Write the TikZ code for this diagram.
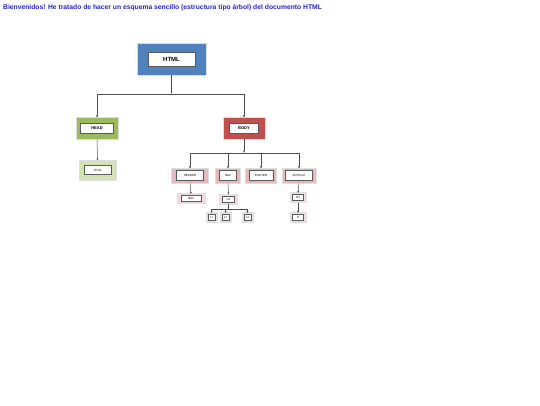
\documentclass[tikz,border=0pt]{standalone}
\usepackage{fontspec}
\setmainfont{Liberation Sans}
\usetikzlibrary{arrows.meta}
\definecolor{ttl}{HTML}{2424D6}
\definecolor{hblue}{HTML}{4F81BD}
\definecolor{hgreen}{HTML}{9BBB59}
\definecolor{hred}{HTML}{C0504D}
\definecolor{lgreen}{HTML}{D2E2B4}
\definecolor{lpink}{HTML}{E6B9B8}
\definecolor{vpink}{HTML}{F2DCDB}
\tikzset{
  x=1pt,y=-1pt,
  outerbox/.style={draw=gray!25,line width=0.8pt,inner sep=0pt},
  innerbox/.style={draw=black!65,fill=white,line width=0.5pt,inner sep=0pt,font=\fontsize{3}{3}\selectfont},
  conn/.style={draw=black!70,line width=0.5pt},
  arr/.style={conn,-{Latex[length=2.2pt,width=2pt]}},
}
% name, cx, cy, ow, oh, iw, ih, fill, text
\newcommand{\tbox}[9]{%
  \node[outerbox,fill=#8,minimum width=#4pt,minimum height=#5pt] (#1) at (#2,#3) {};
  \node[innerbox,minimum width=#6pt,minimum height=#7pt] (#1i) at (#2,#3) {#9};
}
\begin{document}
\begin{tikzpicture}
\useasboundingbox (0,0) rectangle (540,405);
\fill[white] (0,0) rectangle (540,405);
\node[anchor=west,text=ttl,font=\bfseries\fontsize{6.75}{7}\selectfont,inner sep=0pt] (title) at (3,7.5) {Bienvenidos! He tratado de hacer un esquema sencillo (estructura tipo árbol) del documento HTML};

\tbox{html}{171.5}{59}{69}{32}{47}{14}{hblue}{\fontsize{6}{6}\selectfont\bfseries HTML}
\tbox{head}{97}{128}{42}{22}{33}{10}{hgreen}{\fontsize{4}{4}\selectfont\bfseries HEAD}
\tbox{body}{244}{128}{42}{22}{29}{10}{hred}{\fontsize{4}{4}\selectfont\bfseries BODY}
\tbox{title2}{97.5}{170}{37}{20}{27}{9}{lgreen}{TITLE}
\tbox{header}{190}{175.5}{37}{15}{27}{10}{lpink}{HEADER}
\tbox{nav}{228}{175.5}{25}{15}{17}{10}{lpink}{NAV}
\tbox{footer}{261}{175.5}{31}{15}{24}{10}{lpink}{FOOTER}
\tbox{article}{299}{175.5}{34}{15}{27}{10}{lpink}{ARTICLE}
\tbox{hnav}{191}{198.5}{28}{10}{20}{6}{vpink}{NAV}
\tbox{ul}{228.5}{199}{18}{10}{12}{6}{vpink}{UL}
\tbox{hone}{298}{197.5}{16}{10}{11}{6}{vpink}{H1}
\tbox{p}{298}{217.5}{16}{10}{11}{6}{vpink}{P}
\tbox{lia}{211.5}{217.5}{11}{10}{7}{6}{vpink}{LI}
\tbox{lib}{225.5}{217.5}{11}{10}{7}{6}{vpink}{LI}
\tbox{lic}{247.5}{217.5}{11}{10}{7}{6}{vpink}{LI}

% HTML -> HEAD, BODY
\coordinate (j1) at (171.5,94);
\draw[arr] (html.south) -- (j1);
\draw[arr] (j1) -| ([yshift=-1pt]head.north);
\draw[arr] (j1) -| ([yshift=-1pt]body.north);
% HEAD -> TITLE
\draw[arr] (head.south) -- ([yshift=-1pt]title2.north);
% BODY -> row
\coordinate (j2) at (244,153);
\draw[arr] (body.south) -- (j2);
\draw[arr] (j2) -| ([yshift=-1pt]header.north);
\draw[arr] (j2) -| ([yshift=-1pt]nav.north);
\draw[arr] (j2) -| ([yshift=-1pt]footer.north);
\draw[arr] (j2) -| ([yshift=-1pt]article.north);
% children
\draw[arr] (header.south) -- ([yshift=-1pt]hnav.north);
\draw[arr] (nav.south) -- ([yshift=-1pt]ul.north);
\draw[arr] (article.south) -- ([yshift=-1pt]hone.north);
\draw[arr] (hone.south) -- ([yshift=-1pt]p.north);
% UL -> LI
\coordinate (j3) at (228.5,209.5);
\draw[arr] (ul.south) -- (j3);
\draw[arr] (j3) -| ([yshift=-1pt]lia.north);
\draw[arr] (j3) -| ([yshift=-1pt]lib.north);
\draw[arr] (j3) -| ([yshift=-1pt]lic.north);
\end{tikzpicture}
\end{document}
